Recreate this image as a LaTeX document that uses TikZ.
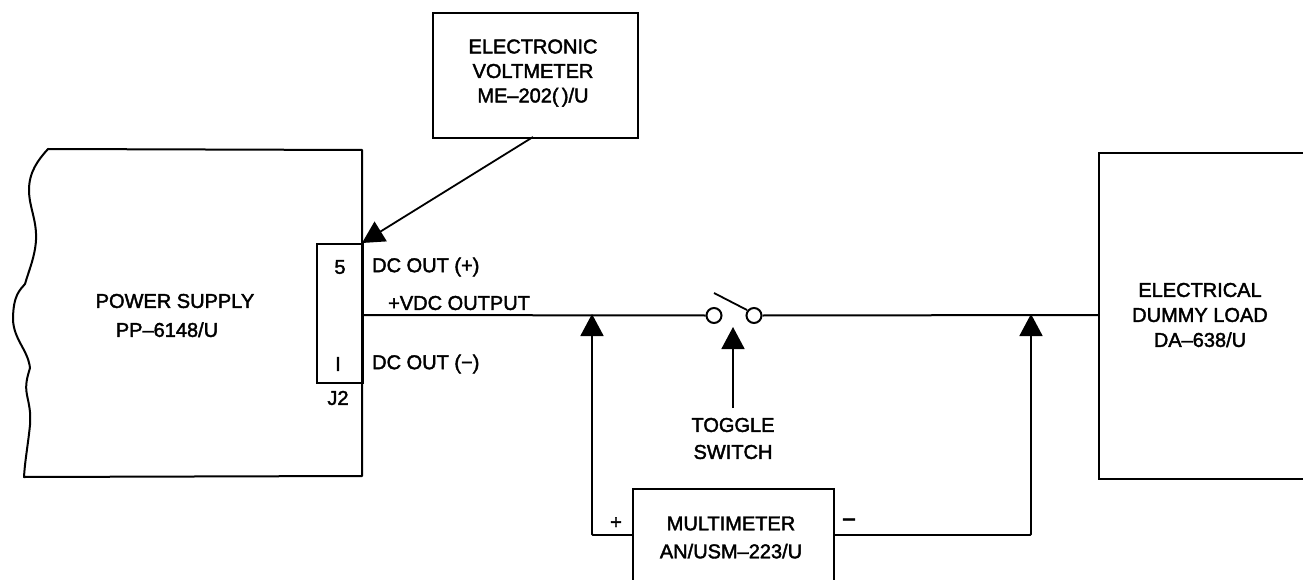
\documentclass[tikz,border=0pt]{standalone}
\usepackage{fontspec}
\setmainfont[FakeBold=2]{Liberation Sans}
\usetikzlibrary{arrows.meta,calc}
\tikzset{
  x=1pt,y=-1pt,
  line/.style={line width=2pt,black,line join=round},
  thin line/.style={line width=1.8pt,black},
  blockbox/.style={draw,line width=2pt,inner sep=0pt,anchor=north west,align=center},
  lbl/.style={inner sep=0pt,align=center,font=\fontsize{20}{24.5}\selectfont},
  contact/.style={circle,draw,line width=2pt,fill=white,minimum size=15pt,inner sep=0pt},
  tip/.style={-{Triangle[length=22pt,width=23pt]}}
}
\begin{document}
\begin{tikzpicture}
\useasboundingbox (0,0) rectangle (1303,580);
\clip (0,0) rectangle (1303,580);
% power supply outline
\draw[line] (362,150) -- (48,149) .. controls (38,160) and (29,172) .. (29,190)
  .. controls (29,207) and (37,220) .. (36,240)
  .. controls (35,257) and (29,270) .. (25,284)
  .. controls (20,290) and (13,295) .. (13,320)
  .. controls (14,340) and (28,350) .. (30,368)
  .. controls (27,378) and (25,385) .. (27,395)
  .. controls (29,405) and (31,412) .. (30,425)
  .. controls (28,445) and (25,460) .. (24,477) -- (362,476) -- cycle;
\node[lbl,font=\fontsize{20}{29}\selectfont] (ps) at (175,315.5) {POWER SUPPLY\\PP\textendash 6148/U\hspace*{16pt}};
% J2
\node[blockbox,minimum width=46pt,minimum height=139pt] (j2) at (316,243) {};
\node[lbl] (p5) at (340,267) {5};
\node[lbl] (p1) at (338,364) {I};
\node[lbl] (j2l) at (338,398) {J2};
\node[lbl,anchor=west] (dcp) at (372,267) {DC OUT (+)};
\node[lbl,anchor=west] (dcm) at (372,364) {DC OUT (\textminus)};
\node[lbl,anchor=west] (vdc) at (388,303) {+VDC OUTPUT};
% voltmeter
\node[blockbox,minimum width=205pt,minimum height=125pt] (vm) at (432,12) {};
\node[lbl] (vmt) at (533,73) {ELECTRONIC\\VOLTMETER\\ME\textendash 202(\,)/U};
\coordinate (vmout) at (533,137);
\coordinate (pin5) at (362,243);
\draw[thin line,tip] (vmout) -- (pin5);
% dummy load
\node[blockbox,minimum width=220pt,minimum height=326pt] (load) at (1098,152) {};
\node[lbl,font=\fontsize{20}{25}\selectfont] (loadt) at (1200,315) {ELECTRICAL\\DUMMY LOAD\\DA\textendash 638/U};
% switch
\node[contact] (swl) at (714,315.5) {};
\node[contact] (swr) at (754,315.5) {};
\coordinate (lever) at (714,293);
\draw[thin line] (lever) -- (747,310);
\coordinate (wireout) at (362,315);
\coordinate (wirein) at (1098,315);
\draw[line] (wireout) -- (swl.west);
\draw[line] (swr.east) -- (wirein);
% toggle label
\node[lbl,font=\fontsize{20}{27}\selectfont] (tog) at (733,438.5) {TOGGLE\\SWITCH};
\coordinate (togtip) at (733,327);
\draw[thin line,tip] (733,408) -- (togtip);
% multimeter
\node[blockbox,minimum width=201pt,minimum height=110pt] (mm) at (632,488) {};
\node[lbl,font=\fontsize{20}{28}\selectfont] (mmt) at (731,537.5) {MULTIMETER\\AN/USM\textendash 223/U};
\coordinate (jp) at (592,314);
\coordinate (jm) at (1031,314);
\coordinate (mmp) at (632,535);
\coordinate (mmm) at (833,535);
\draw[thin line,tip,rounded corners=1pt] (mmp) -| (jp);
\draw[thin line,tip,rounded corners=1pt] (mmm) -| (jm);
\node[lbl] (plus) at (616,523) {+};
\node[lbl,font=\fontsize{24}{24}\selectfont] (minus) at (849,523) {\textminus};
\end{tikzpicture}
\end{document}
